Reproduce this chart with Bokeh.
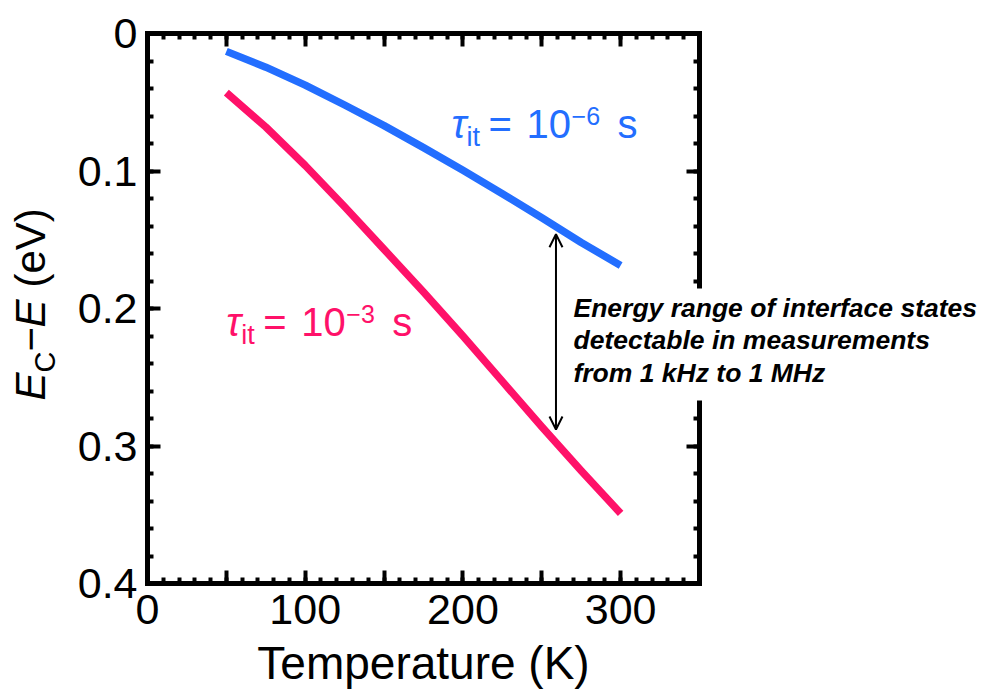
import numpy as np
from bokeh.plotting import figure
from bokeh.models import (Range1d, LinearAxis, FixedTicker, Label, Arrow, OpenHead,
                          ColumnDataSource, GridBox, BoxAnnotation)
from bokeh.embed import file_html
from bokeh.resources import INLINE

# ---- data ----
temperature = [50, 75, 100, 125, 150, 175, 200, 225, 250, 275, 300]
ec_minus_e_tau_1e6 = [0.013, 0.0245, 0.0375, 0.052, 0.067, 0.083, 0.0995, 0.1165, 0.134, 0.152, 0.1687]
ec_minus_e_tau_1e3 = [0.043, 0.068, 0.096, 0.126, 0.157, 0.188, 0.220, 0.253, 0.286, 0.318, 0.349]

x_ticks = [0, 50, 100, 150, 200, 250, 300, 350]
x_tick_labels = ["0", "", "100", "", "200", "", "300", ""]
y_ticks = [0, 0.1, 0.2, 0.3, 0.4]
y_tick_labels = ["0", "0.1", "0.2", "0.3", "0.4"]

arrow_T = [259, 259]
arrow_E = [0.146, 0.288]

note_lines = ["Energy range of interface states",
              "detectable in measurements",
              "from 1 kHz to 1 MHz"]

BLUE = "#236EFF"
PINK = "#FF1169"
FONT = "Liberation Sans"

W, H = 986, 695
LEFT, TOP = 147, 33
FRAME_W, FRAME_H = 552, 550
YPX = 0.4 / FRAME_H          # data units per pixel (vertical)
XPX = 350 / FRAME_W          # data units per pixel (horizontal)

p = figure(width=W, height=H, x_range=Range1d(0, 350), y_range=Range1d(0.4, 0),
           output_backend="svg", toolbar_location=None,
           min_border_left=LEFT, min_border_right=W - LEFT - FRAME_W,
           min_border_top=TOP, min_border_bottom=H - TOP - FRAME_H)
p.frame_align = False
p.xgrid.visible = False
p.ygrid.visible = False
p.outline_line_color = None
p.background_fill_color = "white"
p.border_fill_color = "white"

x_minor = list(np.arange(0, 351, 10))
y_minor = list(np.round(np.arange(0, 0.401, 0.02), 3))


def style_axis(ax, ticks, minor, labels, show_labels, standoff):
    ax.ticker = FixedTicker(ticks=ticks, minor_ticks=minor)
    ax.major_label_overrides = dict(zip(ticks, labels))
    ax.axis_line_width = 5
    ax.axis_line_color = "black"
    ax.axis_line_cap = "square"
    ax.major_tick_in = 13
    ax.major_tick_out = 0
    ax.minor_tick_in = 6
    ax.minor_tick_out = 0
    ax.major_tick_line_width = 4
    ax.minor_tick_line_width = 4
    ax.major_tick_line_color = "black"
    ax.minor_tick_line_color = "black"
    ax.major_label_text_font = FONT
    ax.major_label_text_color = "black"
    ax.major_label_standoff = standoff
    ax.major_label_text_font_size = "43px" if show_labels else "0px"


style_axis(p.xaxis[0], x_ticks, x_minor, x_tick_labels, True, 11)
style_axis(p.yaxis[0], y_ticks, y_minor, y_tick_labels, True, 10)
p.xaxis.axis_label = "Temperature (K)"
p.xaxis.axis_label_text_font = FONT
p.xaxis.axis_label_text_font_size = "46px"
p.xaxis.axis_label_text_font_style = "normal"
p.xaxis.axis_label_text_color = "black"
p.xaxis.axis_label_standoff = 10

top_axis = LinearAxis()
style_axis(top_axis, x_ticks, x_minor, [""] * len(x_ticks), False, 0)
p.add_layout(top_axis, "above")
right_axis = LinearAxis()
style_axis(right_axis, y_ticks, y_minor, [""] * len(y_ticks), False, 0)
p.add_layout(right_axis, "right")

src = ColumnDataSource(dict(T=temperature, e6=ec_minus_e_tau_1e6, e3=ec_minus_e_tau_1e3))
p.line("T", "e6", source=src, line_color=BLUE, line_width=7.5, line_cap="butt", line_join="round")
p.line("T", "e3", source=src, line_color=PINK, line_width=7.5, line_cap="butt", line_join="round")

p.add_layout(Arrow(x_start=arrow_T[0], y_start=arrow_E[0], x_end=arrow_T[1], y_end=arrow_E[1],
                   line_width=2, line_color="black",
                   start=OpenHead(size=13, line_width=2, line_color="black"),
                   end=OpenHead(size=13, line_width=2, line_color="black")))

# ---- transparent overlay figure sharing the same data coordinates (texts are not clipped) ----
q = figure(width=W, height=H,
           x_range=Range1d(-LEFT * XPX, (W - LEFT) * XPX),
           y_range=Range1d((H - TOP) * YPX, -TOP * YPX),
           output_backend="svg", toolbar_location=None, min_border=0,
           min_border_left=0, min_border_right=0, min_border_top=0, min_border_bottom=0,
           x_axis_location=None, y_axis_location=None)
q.frame_align = False
q.xgrid.visible = False
q.ygrid.visible = False
q.outline_line_color = None
q.background_fill_alpha = 0
q.border_fill_alpha = 0

BASE_FIX = 0.4   # baseline correction (em)


def txt(x, y, text, dx=0, dy=0, size=40, style="normal", color="black"):
    dy_total = dy - BASE_FIX * size
    q.add_layout(Label(x=x, y=y + dy_total * YPX, x_offset=dx, text=text, text_font=FONT,
                       text_font_size=f"{size}px", text_font_style=style, text_color=color,
                       text_align="left", text_baseline="alphabetic"))


def tau_label(x, y, exp, color):
    txt(x, y, "τ", 0, 0, 40, "italic", color)
    txt(x, y, "it", 15, 8, 27, "normal", color)
    txt(x, y, "=", 37, 0, 40, "normal", color)
    txt(x, y, "10", 75, 0, 40, "normal", color)
    txt(x, y, "−" + exp, 120, -14, 25, "normal", color)
    txt(x, y, "s", 166, 0, 40, "normal", color)


tau_label(192.8, 0.0771, "6", BLUE)
tau_label(50.0, 0.2211, "3", PINK)

# white box behind the note (interrupts the right frame line as in the reference)
q.add_layout(BoxAnnotation(left=(565 - LEFT) * XPX, right=(982 - LEFT) * XPX,
                           top=(288 - TOP) * YPX, bottom=(400 - TOP) * YPX,
                           fill_color="white", fill_alpha=1.0, line_alpha=0))

for line, yb in zip(note_lines, [0.2073, 0.2307, 0.2545]):
    txt(270.1, yb, line, 0, 0, 26.5, "bold italic", "black")

# rotated y-axis label: E_C − E (eV)
YL = 42
ax_x = (47 - LEFT - BASE_FIX * YL) * XPX
ax_y = (400 - TOP) * YPX
rot = np.pi / 2
for piece, dist, xo, size, style in [("E", 0, 0, YL, "italic"),
                                     ("C", 28, 9, 29, "normal"),
                                     ("−", 49, 0, YL, "normal"),
                                     ("E", 73, 0, YL, "italic"),
                                     ("(eV)", 113, 0, YL, "normal")]:
    shift = BASE_FIX * (size - YL)
    q.add_layout(Label(x=ax_x, y=ax_y - dist * YPX, x_offset=xo - shift, text=piece, text_font=FONT,
                       text_font_size=f"{size}px", text_font_style=style, text_color="black",
                       text_align="left", text_baseline="alphabetic", angle=rot))

layout = GridBox(children=[(p, 0, 0), (q, 0, 0)])
open("out.html", "w").write(file_html(layout, INLINE))
